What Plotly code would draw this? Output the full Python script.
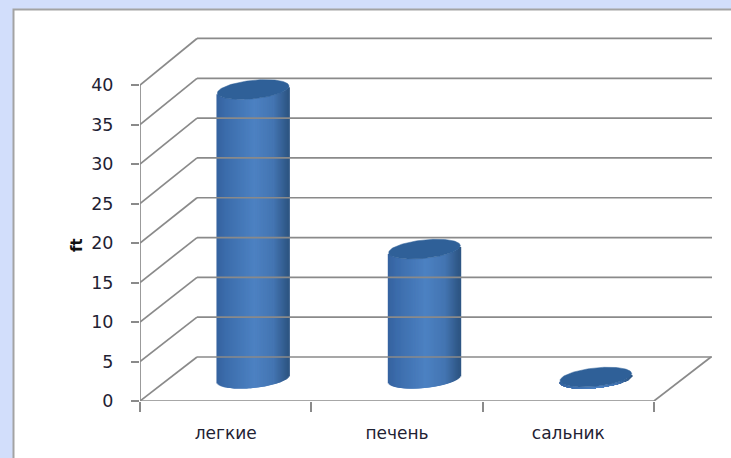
import numpy as np
import plotly.graph_objects as go

categories = ["легкие", "печень", "сальник"]
values = [36.6, 16.4, 0.2]
y_ticks = [0, 5, 10, 15, 20, 25, 30, 35, 40]
axis_title = "ft"

W, H = 731, 458
L, R, T, B = 140, 712, 30, 401           # plot area in pixels
px_per_cat = 171.33
px_per_val = 7.9
x0_range = -0.5
x_range = [x0_range, x0_range + (R - L) / px_per_cat]
y_range = [0, (B - T) / px_per_val]

depth_x = 57 / px_per_cat                 # oblique depth of the floor
depth_y = 44 / px_per_val
wall_scale = 1.008
bar_dx = 27.5 / px_per_cat                # bars stand mid-depth
bar_dy = 22.3 / px_per_val

a_px, b_px, rot = 36.0, 9.2, np.radians(6)   # tilted ellipse of the cylinder
N = 71

GRID = "#8A8A8A"
TEXT = "#1F2233"


def ellipse():
    t = np.linspace(0, 2 * np.pi, 121)
    ex = a_px * np.cos(t) * np.cos(rot) - b_px * np.sin(t) * np.sin(rot)
    ey = a_px * np.cos(t) * np.sin(rot) + b_px * np.sin(t) * np.cos(rot)
    return ex / px_per_cat, ey / px_per_val


def lower_arc_table():
    ex, ey = ellipse()
    grid = np.linspace(ex.min(), ex.max(), 300)
    low = []
    for g in grid:
        d = ex[:-1] - g
        idx = np.where(d * (ex[1:] - g) <= 0)[0]
        ys = [ey[i] + (ey[i + 1] - ey[i]) * (g - ex[i]) / ((ex[i + 1] - ex[i]) or 1) for i in idx]
        low.append(min(ys) if ys else 0)
    return grid, np.array(low)


arc_x, arc_y = lower_arc_table()


def shade(s):
    # s from -1 (left edge) to 1 (right edge)
    stops = [-1, -0.75, 0.05, 0.6, 1]
    r = np.interp(s, stops, [0x36, 0x3C, 0x4D, 0x44, 0x2E])
    g = np.interp(s, stops, [0x63, 0x6D, 0x82, 0x75, 0x56])
    b = np.interp(s, stops, [0xA0, 0xAC, 0xC3, 0xB2, 0x84])
    return f"rgb({int(r)},{int(g)},{int(b)})"


fig = go.Figure()


def line(xs, ys, **kw):
    fig.add_trace(go.Scatter(x=xs, y=ys, mode="lines", line=dict(color=GRID, width=1.7),
                             cliponaxis=False, hoverinfo="skip", showlegend=False, **kw))


# back wall and side wall lines
n_cat = len(categories)
for v in y_ticks:
    yb = depth_y + v * wall_scale
    line([x0_range + depth_x, x_range[1]], [yb, yb])
    line([x0_range, x0_range + depth_x], [v, yb])

# floor edges and front axes
line([x0_range, n_cat - 0.5], [0, 0])
line([n_cat - 0.5, n_cat - 0.5 + depth_x], [0, depth_y])
line([x0_range, x0_range], [0, y_ticks[-1]])

# cylinders
half_w = a_px * 0.985 / px_per_cat
slice_pos = np.linspace(-1, 1, N)
slice_w = 2.5 / px_per_cat
xs, bases, heights, colors = [], [], [], []
for i, val in enumerate(values):
    cx = i + bar_dx
    for s in slice_pos:
        u = s * half_w
        base = bar_dy + np.interp(u, arc_x, arc_y)
        xs.append(cx + u)
        bases.append(base)
        heights.append(val)
        colors.append(shade(s))
fig.add_trace(go.Bar(x=xs, y=heights, base=bases, width=slice_w,
                     marker=dict(color=colors, line=dict(width=0)),
                     hoverinfo="skip", showlegend=False))

# cylinder caps
ex, ey = ellipse()
for i, val in enumerate(values):
    fig.add_trace(go.Scatter(x=i + bar_dx + ex, y=bar_dy + val + ey, mode="lines", fill="toself",
                             fillcolor="#2F6098", line=dict(color="#2F6098", width=0.5),
                             hoverinfo="skip", showlegend=False))

# panel on the page
fx = lambda p: (p - L) / (R - L)
fy = lambda p: (B - p) / (B - T)
fig.add_shape(type="rect", xref="paper", yref="paper", layer="below",
              x0=fx(13.5), x1=fx(W + 20), y0=fy(9.5), y1=fy(H + 20),
              fillcolor="white", line=dict(color="#A3A3A3", width=2))

fig.add_annotation(text=f"<b>{axis_title}</b>", xref="paper", yref="paper",
                   x=fx(77), y=fy(245), textangle=-90, showarrow=False,
                   xanchor="center", yanchor="middle",
                   font=dict(family="DejaVu Sans", size=15, color="#111111"))

fig.update_layout(
    width=W, height=H, autosize=False,
    margin=dict(l=L, r=W - R, t=T, b=H - B, pad=0),
    paper_bgcolor="#D2DEFB", plot_bgcolor="rgba(0,0,0,0)",
    showlegend=False, barmode="overlay",
    font=dict(family="DejaVu Sans", color=TEXT),
    xaxis=dict(range=x_range, tickmode="array", tickvals=list(range(n_cat)),
               ticktext=categories, ticks="", showgrid=False, zeroline=False, showline=False,
               tickfont=dict(size=17, color=TEXT), ticklabelstandoff=20, fixedrange=True),
    xaxis2=dict(range=x_range, overlaying="x", side="bottom", anchor="y",
                tickmode="array", tickvals=[k - 0.5 for k in range(n_cat + 1)],
                ticks="outside", ticklen=10, tickcolor=GRID, tickwidth=1.5,
                showticklabels=False, showgrid=False, zeroline=False, showline=False),
    yaxis=dict(range=y_range, tickmode="array", tickvals=y_ticks, ticks="outside",
               ticklen=8, tickcolor=GRID, tickwidth=1.5, showgrid=False, zeroline=False,
               showline=False, tickfont=dict(size=17.5, color=TEXT), ticklabelstandoff=14,
               fixedrange=True),
)
# an empty trace so the tick-only axis is drawn
fig.add_trace(go.Scatter(x=[x0_range], y=[0], xaxis="x2", mode="markers", marker=dict(opacity=0),
                         hoverinfo="skip", showlegend=False))

fig.write_html("out.html", config=dict(displayModeBar=False),
               post_script="document.body.style.margin='0';document.documentElement.style.overflow='hidden';")
